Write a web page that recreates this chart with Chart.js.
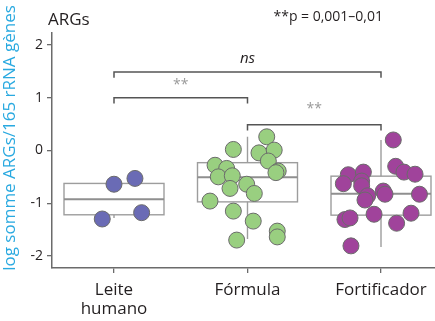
<!DOCTYPE html>
<html>
<head>
<meta charset="utf-8">
<script src="https://cdn.jsdelivr.net/npm/chart.js@4.4.0/dist/chart.umd.min.js"></script>
<style>
  html, body { margin: 0; padding: 0; background: #fff; }
  #wrap { width: 435px; height: 321px; position: relative; }
</style>
</head>
<body>
<div id="wrap"><canvas id="chart"></canvas></div>
<script>
const categories = [['Leite', 'humano'], 'Fórmula', 'Fortificador'];
const yTicks = [-2, -1, 0, 1, 2];

// points: offset from the category centre (x) and log value (y)
const leiteX = [0.000, 0.157, -0.088, 0.207];
const leiteY = [-0.64, -0.53, -1.30, -1.18];
const formulaX = [0.144, -0.106, 0.086, 0.200, 0.156, -0.243, -0.156, 0.230, 0.213, -0.219,
                  -0.114, -0.006, -0.131, 0.051, -0.281, -0.106, 0.043, 0.223, 0.223, -0.081];
const formulaY = [0.26, 0.02, -0.045, 0.007, -0.20, -0.28, -0.34, -0.39, -0.42, -0.50,
                  -0.48, -0.64, -0.72, -0.815, -0.96, -1.15, -1.34, -1.53, -1.64, -1.70];
const fortX = [0.092, 0.110, 0.172, 0.255, -0.245, -0.132, -0.282, -0.145, -0.145, 0.017,
               0.030, -0.100, -0.120, 0.288, -0.270, -0.232, -0.052, 0.225, 0.117, -0.225];
const fortY = [0.20, -0.30, -0.41, -0.45, -0.46, -0.41, -0.63, -0.58, -0.67, -0.77,
               -0.83, -0.86, -0.94, -0.83, -1.31, -1.28, -1.21, -1.19, -1.38, -1.81];

// box plot: quartiles and whisker ends, one per category
const boxQ1 = [-1.22, -0.975, -1.227];
const boxMedian = [-0.924, -0.506, -0.823];
const boxQ3 = [-0.625, -0.231, -0.487];
const whiskerLow = [-1.28, -1.68, -1.83];
const whiskerHigh = [-0.53, 0.26, 0.20];

// comparison brackets
const bracketFrom = [0, 0, 1];
const bracketTo = [1, 2, 2];
const bracketY = [1.0, 1.49, 0.49];
const bracketLabelY = [1.17, 1.66, 0.715];
const bracketLabels = ['**', 'ns', '**'];

const COLOR_LEITE = '#6a6bb5';
const COLOR_FORMULA = '#99cf80';
const COLOR_FORT = '#a0439b';
const FONT = '"Open Sans", "Noto Sans", sans-serif';

function toPoints(center, xs, ys) {
  return xs.map((dx, i) => ({ x: center + dx, y: ys[i] }));
}

function pointSet(data, color) {
  return {
    type: 'scatter',
    data: data,
    backgroundColor: color,
    borderColor: '#6b6b6b',
    borderWidth: 1,
    pointRadius: 8,
    pointHoverRadius: 8
  };
}

// no extra room for edge labels: the plot keeps its fixed frame
function fixPadding(s) {
  s.paddingLeft = 0;
  s.paddingRight = 0;
  s.paddingTop = 0;
  s.paddingBottom = 0;
}

// boxes and whiskers, drawn under the points
const boxPlugin = {
  id: 'boxes',
  beforeDatasetsDraw(chart) {
    const { ctx, scales: { x, y } } = chart;
    const half = 0.3745;
    ctx.save();
    ctx.strokeStyle = '#9d9d9d';
    ctx.lineWidth = 1.4;
    categories.forEach((_, i) => {
      const xl = x.getPixelForValue(i - half);
      const xr = x.getPixelForValue(i + half);
      const xc = x.getPixelForValue(i);
      const yq1 = y.getPixelForValue(boxQ1[i]);
      const yq3 = y.getPixelForValue(boxQ3[i]);
      const ym = y.getPixelForValue(boxMedian[i]);
      ctx.beginPath();
      ctx.moveTo(xc, y.getPixelForValue(whiskerHigh[i]));
      ctx.lineTo(xc, yq3);
      ctx.moveTo(xc, yq1);
      ctx.lineTo(xc, y.getPixelForValue(whiskerLow[i]));
      ctx.stroke();
      ctx.strokeRect(xl, yq3, xr - xl, yq1 - yq3);
      ctx.beginPath();
      ctx.lineWidth = 2;
      ctx.strokeStyle = '#8f8f8f';
      ctx.moveTo(xl, ym);
      ctx.lineTo(xr, ym);
      ctx.stroke();
      ctx.lineWidth = 1.4;
      ctx.strokeStyle = '#9d9d9d';
    });
    ctx.restore();
  }
};

// significance brackets and headings
const annotPlugin = {
  id: 'annot',
  afterDatasetsDraw(chart) {
    const { ctx, scales: { x, y } } = chart;
    ctx.save();
    ctx.strokeStyle = '#555';
    ctx.lineWidth = 1.5;
    bracketY.forEach((v, i) => {
      const x1 = x.getPixelForValue(bracketFrom[i]);
      const x2 = x.getPixelForValue(bracketTo[i]);
      const yy = y.getPixelForValue(v);
      const yt = y.getPixelForValue(v - 0.11);
      ctx.beginPath();
      ctx.moveTo(x1, yt);
      ctx.lineTo(x1, yy);
      ctx.lineTo(x2, yy);
      ctx.lineTo(x2, yt);
      ctx.stroke();

      const lab = bracketLabels[i];
      ctx.textAlign = 'center';
      ctx.textBaseline = 'alphabetic';
      if (lab === 'ns') {
        ctx.fillStyle = '#231f20';
        ctx.font = 'italic 15px ' + FONT;
      } else {
        ctx.fillStyle = '#9a9a9a';
        ctx.font = '14px ' + FONT;
      }
      ctx.fillText(lab, (x1 + x2) / 2, y.getPixelForValue(bracketLabelY[i]));
    });

    ctx.fillStyle = '#231f20';
    ctx.textAlign = 'left';
    ctx.font = '17px ' + FONT;
    ctx.fillText('ARGs', 48, 25);
    ctx.textAlign = 'right';
    ctx.font = '14px ' + FONT;
    ctx.fillText('**p = 0,001\u20130,01', 383, 21);

    // y axis title
    ctx.translate(15, 138);
    ctx.rotate(-Math.PI / 2);
    ctx.textAlign = 'center';
    ctx.fillStyle = '#29a9e0';
    ctx.font = '17px ' + FONT;
    ctx.fillText('log somme ARGs/165 rRNA g\u00e8nes', 0, 0);
    ctx.restore();
  }
};

new Chart(document.getElementById('chart'), {
  type: 'scatter',
  data: {
    datasets: [
      pointSet(toPoints(0, leiteX, leiteY), COLOR_LEITE),
      pointSet(toPoints(1, formulaX, formulaY), COLOR_FORMULA),
      pointSet(toPoints(2, fortX, fortY), COLOR_FORT)
    ]
  },
  options: {
    responsive: true,
    maintainAspectRatio: false,
    animation: false,
    layout: { autoPadding: false, padding: { top: 33, left: 0, right: 0, bottom: 0 } },
    plugins: { legend: { display: false }, tooltip: { enabled: false } },
    scales: {
      x: {
        type: 'linear',
        min: -0.4644,
        max: 2.4045,
        afterBuildTicks: s => { s.ticks = categories.map((_, i) => ({ value: i })); },
        afterFit: s => { s.height = 53; fixPadding(s); },
        grid: { drawOnChartArea: false, tickLength: 5, color: '#6b6b6b', lineWidth: 1.3 },
        border: { color: '#6b6b6b', width: 1.5 },
        ticks: {
          padding: 7,
          color: '#231f20',
          font: { family: FONT, size: 17, lineHeight: 1.15 },
          maxRotation: 0,
          callback: v => categories[v]
        }
      },
      y: {
        min: -2.23,
        max: 2.23,
        afterBuildTicks: s => { s.ticks = yTicks.map(v => ({ value: v })); },
        afterFit: s => { s.width = 52; fixPadding(s); },
        grid: { drawOnChartArea: false, tickLength: 5, color: '#6b6b6b', lineWidth: 1.3 },
        border: { color: '#6b6b6b', width: 1.5 },
        ticks: {
          padding: 4,
          color: '#231f20',
          font: { family: FONT, size: 14 }
        }
      }
    }
  },
  plugins: [boxPlugin, annotPlugin]
});
</script>
</body>
</html>
